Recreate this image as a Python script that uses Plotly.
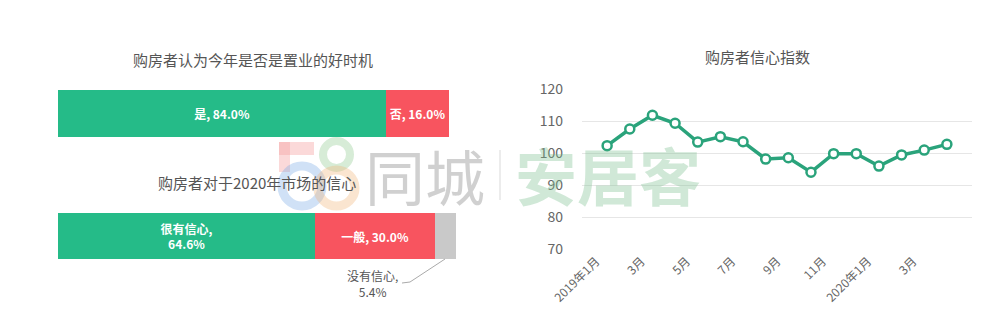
import plotly.graph_objects as go

# ---- data ----
q1_labels = ["是", "否"]
q1_values = [84.0, 16.0]
q2_labels = ["很有信心", "一般", "没有信心"]
q2_values = [64.6, 30.0, 5.4]
months = ["2019年1月", "2019年2月", "2019年3月", "2019年4月", "2019年5月", "2019年6月",
          "2019年7月", "2019年8月", "2019年9月", "2019年10月", "2019年11月", "2019年12月",
          "2020年1月", "2020年2月", "2020年3月", "2020年4月"]
index_values = [102.3, 107.5, 111.8, 109.3, 103.4, 105.1, 103.5, 98.1,
                98.5, 94.0, 99.8, 99.8, 95.9, 99.4, 100.9, 102.7]
tick_months = ["2019年1月", "2019年3月", "2019年5月", "2019年7月", "2019年9月",
               "2019年11月", "2020年1月", "2020年3月"]
tick_text = ["2019年1月", "3月", "5月", "7月", "9月", "11月", "2020年1月", "3月"]

GREEN = "#25bb88"
RED = "#f8545f"
GRAY = "#c9c9c9"
LINE = "#2aa37b"
FONT = "Noto Sans CJK SC"
W, H = 1000, 334

def px(x):
    return x / W

def py(y):
    return 1 - y / H

fig = go.Figure()

# top bar
q1_colors = [GREEN, RED]
for lab, val, col in zip(q1_labels, q1_values, q1_colors):
    fig.add_trace(go.Bar(
        x=[val], y=["q1"], orientation="h", marker=dict(color=col, line=dict(width=0)),
        text=[f"{lab}, {val:.1f}%"], textposition="inside", insidetextanchor="middle",
        textfont=dict(color="white", size=12, family=FONT, weight="bold"),
        xaxis="x", yaxis="y", width=1, showlegend=False, hoverinfo="skip"))

# bottom bar
q2_colors = [GREEN, RED, GRAY]
q2_texts = [f"{q2_labels[0]},<br>{q2_values[0]:.1f}%", f"{q2_labels[1]}, {q2_values[1]:.1f}%", ""]
for lab, val, col, t in zip(q2_labels, q2_values, q2_colors, q2_texts):
    fig.add_trace(go.Bar(
        x=[val], y=["q2"], orientation="h", marker=dict(color=col, line=dict(width=0)),
        text=[t], textposition="inside", insidetextanchor="middle",
        textfont=dict(color="white", size=12, family=FONT, weight="bold"),
        xaxis="x2", yaxis="y2", width=1, showlegend=False, hoverinfo="skip"))

# line chart
fig.add_trace(go.Scatter(
    x=months, y=index_values, mode="lines+markers",
    line=dict(color=LINE, width=3.5),
    marker=dict(size=9, color="white", line=dict(color=LINE, width=2.5)),
    xaxis="x3", yaxis="y3", showlegend=False, hoverinfo="skip"))

hidden = dict(visible=False, fixedrange=True, automargin=False)
fig.update_layout(
    width=W, height=H, margin=dict(l=0, r=0, t=0, b=0, pad=0, autoexpand=False),
    paper_bgcolor="white", plot_bgcolor="white",
    barmode="stack", bargap=0, showlegend=False,
    font=dict(family=FONT, color="#555555"),
    xaxis=dict(domain=[px(58), px(449)], range=[0, 100], **hidden),
    yaxis=dict(domain=[py(137), py(90)], range=[-0.5, 0.5], **hidden),
    xaxis2=dict(domain=[px(58), px(456)], range=[0, 100], anchor="y2", **hidden),
    yaxis2=dict(domain=[py(259), py(213)], range=[-0.5, 0.5], anchor="x2", **hidden),
    xaxis3=dict(domain=[px(582), px(972)], anchor="y3", type="category", automargin=False,
                tickvals=tick_months, ticktext=tick_text, tickangle=-45,
                showgrid=False, showline=False, zeroline=False, ticks="",
                tickfont=dict(size=12, color="#666666"), ticklabelstandoff=2,
                ticklabelshift=-11),
    yaxis3=dict(domain=[py(249), py(89)], anchor="x3", range=[70, 120], automargin=False,
                tickvals=[70, 80, 90, 100, 110, 120],
                showgrid=True, gridcolor="#e6e6e6", gridwidth=1, zeroline=False,
                showline=False, ticks="", tickfont=dict(size=14, color="#666666"),
                ticklabelstandoff=18),
)

# titles
titles = [("购房者认为今年是否是置业的好时机", 253, 60),
          ("购房者对于2020年市场的信心", 257, 182),
          ("购房者信心指数", 757, 57)]
for txt, x, y in titles:
    fig.add_annotation(text=txt, x=px(x), y=py(y), xref="paper", yref="paper",
                       showarrow=False, xanchor="center", yanchor="middle",
                       font=dict(size=15, color="#555555", family=FONT))

# outside label for the small segment
fig.add_annotation(text=f"{q2_labels[2]},<br>{q2_values[2]:.1f}%", x=px(372), y=py(283),
                   xref="paper", yref="paper", showarrow=False, xanchor="center",
                   yanchor="middle", align="center",
                   font=dict(size=12, color="#555555", family=FONT))
fig.add_shape(type="line", xref="paper", yref="paper",
              x0=px(402), y0=py(283), x1=px(410), y1=py(282),
              line=dict(color="#aaaaaa", width=1))
fig.add_shape(type="line", xref="paper", yref="paper",
              x0=px(410), y0=py(282), x1=px(445), y1=py(259),
              line=dict(color="#aaaaaa", width=1))

# watermark
fig.add_annotation(text="同城", x=px(425), y=py(174), xref="paper", yref="paper",
                   showarrow=False, font=dict(size=60, color="rgba(150,150,150,0.45)", family=FONT))
fig.add_annotation(text="安居客", x=px(608), y=py(174), xref="paper", yref="paper",
                   showarrow=False,
                   font=dict(size=62, color="rgba(120,190,140,0.35)", family=FONT, weight="bold"))
fig.add_shape(type="line", xref="paper", yref="paper", x0=px(500), x1=px(500),
              y0=py(150), y1=py(200), line=dict(color="rgba(180,180,180,0.5)", width=1))
# "58" logo
fig.add_shape(type="rect", xref="paper", yref="paper", x0=px(279), x1=px(314),
              y0=py(155), y1=py(142), fillcolor="rgba(245,160,160,0.4)", line=dict(width=0))
fig.add_shape(type="rect", xref="paper", yref="paper", x0=px(279), x1=px(290),
              y0=py(172), y1=py(142), fillcolor="rgba(245,160,160,0.4)", line=dict(width=0))
fig.add_shape(type="circle", xref="paper", yref="paper", x0=px(282), x1=px(322),
              y0=py(206), y1=py(166), line=dict(color="rgba(120,170,230,0.35)", width=9))
fig.add_shape(type="circle", xref="paper", yref="paper", x0=px(323), x1=px(350),
              y0=py(168), y1=py(141), line=dict(color="rgba(140,200,140,0.35)", width=8))
fig.add_shape(type="circle", xref="paper", yref="paper", x0=px(318), x1=px(355),
              y0=py(206), y1=py(170), line=dict(color="rgba(240,180,120,0.35)", width=9))

fig.write_html("out.html")
